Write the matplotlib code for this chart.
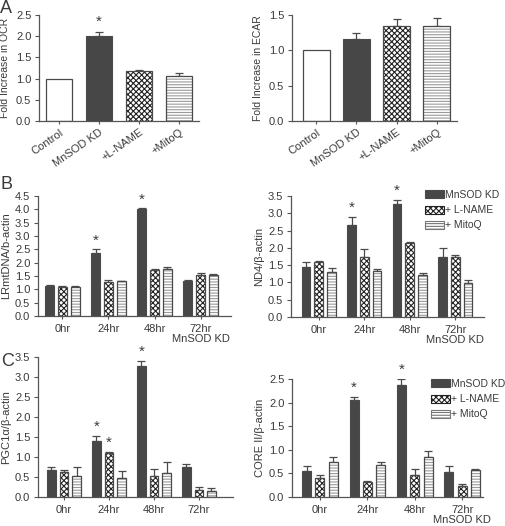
import matplotlib
matplotlib.use("Agg")
import matplotlib.pyplot as plt
import numpy as np
from matplotlib.patches import Patch

plt.rcParams['font.family'] = ['Liberation Sans', 'DejaVu Sans']
plt.rcParams['font.size'] = 8
plt.rcParams['hatch.linewidth'] = 0.8

# ---------------- data ----------------
a_cats = ["Control", "MnSOD KD", "+L-NAME", "+MitoQ"]
ocr_vals = [1.0, 2.0, 1.18, 1.07]
ocr_err = [0.0, 0.10, 0.02, 0.07]
ecar_vals = [1.0, 1.16, 1.35, 1.34]
ecar_err = [0.0, 0.08, 0.09, 0.12]

times = ["0hr", "24hr", "48hr", "72hr\nMnSOD KD"]
times_c = ["0hr", "24hr", "48hr", "72hr"]
series = ["MnSOD KD", "+ L-NAME", "+ MitoQ"]

lrmt_vals = [[1.13, 2.35, 4.00, 1.30],
             [1.10, 1.27, 1.72, 1.55],
             [1.10, 1.30, 1.75, 1.55]]
lrmt_err = [[0.02, 0.15, 0.04, 0.05],
            [0.01, 0.08, 0.03, 0.05],
            [0.04, 0.02, 0.08, 0.04]]

nd4_vals = [[1.45, 2.67, 3.27, 1.75],
            [1.60, 1.73, 2.13, 1.73],
            [1.30, 1.33, 1.22, 0.98]]
nd4_err = [[0.15, 0.22, 0.12, 0.25],
           [0.02, 0.23, 0.05, 0.07],
           [0.13, 0.05, 0.06, 0.08]]

pgc_vals = [[0.68, 1.40, 3.28, 0.75],
            [0.63, 1.10, 0.52, 0.17],
            [0.53, 0.48, 0.60, 0.15]]
pgc_err = [[0.07, 0.13, 0.13, 0.07],
           [0.05, 0.03, 0.17, 0.08],
           [0.23, 0.17, 0.27, 0.07]]

core_vals = [[0.55, 2.05, 2.38, 0.53],
             [0.41, 0.32, 0.47, 0.24],
             [0.74, 0.68, 0.84, 0.57]]
core_err = [[0.11, 0.07, 0.12, 0.13],
            [0.05, 0.01, 0.12, 0.03],
            [0.10, 0.06, 0.13, 0.03]]

# stars: (series index, group index)
stars_lrmt = [(0, 1), (0, 2)]
stars_nd4 = [(0, 1), (0, 2)]
stars_pgc = [(0, 1), (1, 1), (0, 2)]
stars_core = [(0, 1), (0, 2)]

# ---------------- styles ----------------
DARK = "#474747"
EDGE = "#4a4a4a"
AX = "#555555"
TXT = "#3a3a3a"

W, H = 506, 526
fig = plt.figure(figsize=(W / 100, H / 100), dpi=100)


def ax_px(x0, x1, ytop, ybot):
    return fig.add_axes([x0 / W, 1 - ybot / H, (x1 - x0) / W, (ybot - ytop) / H])


def style(ax):
    for s in ['top', 'right']:
        ax.spines[s].set_visible(False)
    for s in ['left', 'bottom']:
        ax.spines[s].set_color(AX)
        ax.spines[s].set_linewidth(0.9)
    ax.tick_params(colors=AX, labelcolor=TXT, length=3, width=0.8, labelsize=8, pad=2.5)


def draw_bar(ax, x, h, w, kind, err):
    # kind: 0 dark, 1 checker, 2 lines, 3 white
    if kind == 0:
        ax.bar(x, h, w, color=DARK, edgecolor=EDGE, linewidth=0.8, zorder=2)
    elif kind == 1:
        ax.bar(x, h, w, color="white", edgecolor="#222222", hatch="xxxxxx", linewidth=0, zorder=2)
        ax.bar(x, h, w, fill=False, edgecolor=EDGE, linewidth=0.9, zorder=3)
    elif kind == 2:
        ax.bar(x, h, w, color="white", edgecolor="#9a9a9a", hatch="------", linewidth=0, zorder=2)
        ax.bar(x, h, w, fill=False, edgecolor=EDGE, linewidth=0.9, zorder=3)
    else:
        ax.bar(x, h, w, color="white", edgecolor=EDGE, linewidth=0.9, zorder=2)
    if err > 0:
        ax.errorbar(x, h, yerr=[[0], [err]], fmt='none', ecolor=EDGE,
                    elinewidth=0.9, capsize=3, capthick=0.9, zorder=1)


# ---------------- Panel A ----------------
def panel_a(ax, vals, errs, ylim, yticks, ylabel, stars):
    style(ax)
    x = np.arange(len(vals))
    kinds = [3, 0, 1, 2]
    for i in range(len(vals)):
        draw_bar(ax, x[i], vals[i], 0.67, kinds[i], errs[i])
    for i in stars:
        ax.text(x[i], vals[i] + errs[i] + 0.07, "*", ha='center', va='bottom',
                fontsize=11, color=TXT)
    ax.set_ylim(*ylim)
    ax.set_yticks(yticks)
    ax.set_yticklabels([f"{t:.1f}" for t in yticks])
    ax.set_xticks(x)
    ax.set_xticklabels(a_cats, rotation=35, ha='right', rotation_mode='anchor')
    ax.tick_params(axis='x', length=2)
    ax.set_ylabel(ylabel, color=TXT, fontsize=7.5, labelpad=4)


axA1 = ax_px(39, 199, 15, 121)
panel_a(axA1, ocr_vals, ocr_err, (0, 2.5), [0, 0.5, 1.0, 1.5, 2.0, 2.5],
        "Fold Increase in OCR", [1])
axA1.set_xlim(-0.5, 3.5)

axA2 = ax_px(292, 457, 15, 121)
panel_a(axA2, ecar_vals, ecar_err, (0, 1.5), [0, 0.5, 1.0, 1.5],
        "Fold Increase in ECAR", [])
axA2.set_xlim(-0.6, 3.5)


# ---------------- Grouped panels ----------------
def panel_g(ax, vals, errs, ylim, yticks, ylabel, stars, labels, xlim):
    style(ax)
    x = np.arange(len(labels))
    off = [-0.28, 0.0, 0.28]
    for s in range(3):
        for g in range(len(labels)):
            draw_bar(ax, x[g] + off[s], vals[s][g], 0.19, s, errs[s][g])
    for s, g in stars:
        ax.text(x[g] + off[s], vals[s][g] + errs[s][g] + ylim[1] * 0.015, "*",
                ha='center', va='bottom', fontsize=11, color=TXT)
    ax.set_ylim(*ylim)
    ax.set_yticks(yticks)
    ax.set_yticklabels([f"{t:.1f}" for t in yticks])
    ax.set_xticks(x)
    ax.set_xticklabels(labels, linespacing=1.0)
    ax.tick_params(axis='x', length=2, pad=4)
    ax.set_xlim(*xlim)
    ax.set_ylabel(ylabel, color=TXT, fontsize=8, labelpad=3)


axB1 = ax_px(38, 231, 196, 316)
panel_g(axB1, lrmt_vals, lrmt_err, (0, 4.5), np.arange(0, 4.51, 0.5),
        "LRmtDNA/b-actin", stars_lrmt, times, (-0.53, 3.66))

axB2 = ax_px(291, 484, 196, 317)
panel_g(axB2, nd4_vals, nd4_err, (0, 3.5), np.arange(0, 3.51, 0.5),
        "ND4/β-actin", stars_nd4, times, (-0.61, 3.63))

axC1 = ax_px(38, 233, 357, 497)
panel_g(axC1, pgc_vals, pgc_err, (0, 3.5), np.arange(0, 3.51, 0.5),
        "PGC1α/β-actin", stars_pgc, times_c, (-0.58, 3.76))

axC2 = ax_px(292, 483, 379, 497)
panel_g(axC2, core_vals, core_err, (0, 2.5), np.arange(0, 2.51, 0.5),
        "CORE II/β-actin", stars_core, times, (-0.59, 3.44))


def legend_handles():
    return [Patch(facecolor=DARK, edgecolor=EDGE, linewidth=0.8),
            Patch(facecolor="white", edgecolor="#222222", hatch="xxxxxx", linewidth=0.8),
            Patch(facecolor="white", edgecolor="#777777", hatch="------", linewidth=0.8)]


for (x0, y0) in [(425, 190), (431, 379)]:
    fig.legend(legend_handles(), series, loc='upper left',
               bbox_to_anchor=(x0 / W, 1 - y0 / H), frameon=False,
               fontsize=7.5, handlelength=1.8, handleheight=0.8,
               handletextpad=0.15, labelspacing=0.5, borderpad=0,
               borderaxespad=0, labelcolor=TXT)

# panel letters
for lab, (px, py) in {"A": (0, 0), "B": (1, 176), "C": (1, 353)}.items():
    fig.text(px / W, 1 - py / H, lab, fontsize=13, color=TXT, ha='left', va='top')

fig.savefig("out.png", dpi=100)
